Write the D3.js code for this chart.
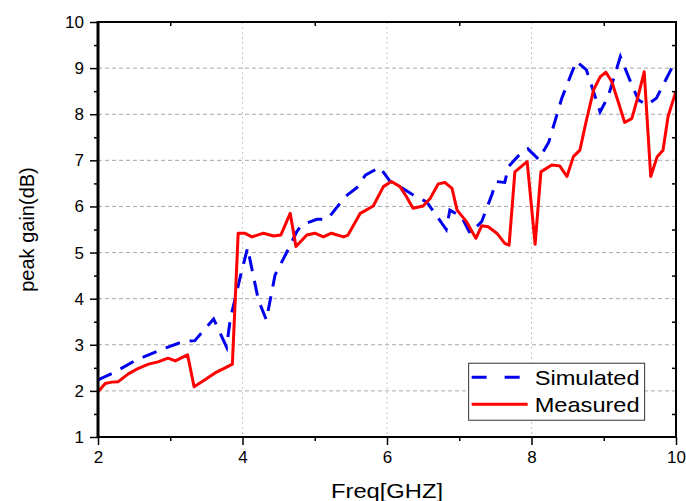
<!DOCTYPE html>
<html>
<head>
<meta charset="utf-8">
<script src="https://cdn.jsdelivr.net/npm/d3@7"></script>
<style>
  body { margin: 0; background: #fff; }
  text { font-family: "Liberation Sans", Arial, sans-serif; fill: #000; }
</style>
</head>
<body>
<script>
// simulated peak gain (dashed blue)
var simFreq = [2.0, 2.2, 2.53, 2.95, 3.18, 3.34, 3.6, 3.78, 3.83, 3.97, 4.07, 4.22, 4.33, 4.45, 4.63, 4.75,
  4.82, 5.03, 5.18, 5.42, 5.6, 5.7, 5.9, 6.04, 6.22, 6.41, 6.55, 6.82, 6.87, 7.03, 7.15, 7.31, 7.45,
  7.51, 7.63, 7.68, 7.82, 7.95, 8.1, 8.24, 8.42, 8.62, 8.76, 8.95, 9.06, 9.23, 9.39, 9.48, 9.6, 9.73,
  9.82, 10.0];
var simGain = [2.24, 2.38, 2.67, 2.94, 3.07, 3.09, 3.56, 2.95, 3.55, 4.48, 5.1, 3.97, 3.54, 4.51, 5.06, 5.45,
  5.6, 5.72, 5.73, 6.21, 6.43, 6.68, 6.85, 6.55, 6.39, 6.2, 6.1, 5.5, 5.92, 5.78, 5.42, 5.67, 6.25,
  6.54, 6.52, 6.86, 7.1, 7.25, 7.02, 7.4, 8.35, 9.15, 8.96, 8.05, 8.38, 9.25, 8.63, 8.31, 8.2, 8.35,
  8.63, 9.18];

// measured peak gain (solid red)
var measFreq = [2.0, 2.1, 2.19, 2.28, 2.42, 2.56, 2.7, 2.83, 2.97, 3.07, 3.16, 3.24, 3.33, 3.48, 3.62, 3.76,
  3.86, 3.94, 4.03, 4.13, 4.29, 4.43, 4.53, 4.66, 4.74, 4.89, 5.0, 5.12, 5.23, 5.4, 5.46, 5.63, 5.81,
  5.95, 6.06, 6.18, 6.27, 6.36, 6.5, 6.6, 6.71, 6.8, 6.9, 6.97, 7.1, 7.23, 7.31, 7.4, 7.52, 7.63,
  7.69, 7.77, 7.94, 8.05, 8.13, 8.28, 8.39, 8.49, 8.58, 8.67, 8.76, 8.86, 8.95, 9.03, 9.11, 9.2,
  9.29, 9.39, 9.48, 9.56, 9.65, 9.74, 9.82, 9.89, 10.0];
var measGain = [1.98, 2.16, 2.19, 2.2, 2.37, 2.49, 2.58, 2.63, 2.71, 2.65, 2.72, 2.78, 2.09, 2.24, 2.39, 2.5,
  2.58, 5.42, 5.42, 5.34, 5.42, 5.36, 5.38, 5.85, 5.13, 5.38, 5.42, 5.34, 5.42, 5.34, 5.38, 5.85, 6.01,
  6.43, 6.54, 6.43, 6.21, 5.96, 6.01, 6.18, 6.49, 6.52, 6.39, 5.92, 5.67, 5.31, 5.58, 5.56, 5.42, 5.2,
  5.16, 6.75, 6.97, 5.18, 6.75, 6.9, 6.88, 6.65, 7.08, 7.22, 7.87, 8.53, 8.81, 8.91, 8.71, 8.27,
  7.82, 7.91, 8.42, 8.92, 6.65, 7.08, 7.22, 7.95, 8.5];

var xMajor = [2, 4, 6, 8, 10];
var xMinor = [3, 5, 7, 9];
var yMajor = [1, 2, 3, 4, 5, 6, 7, 8, 9, 10];
var yMinor = [1.5, 2.5, 3.5, 4.5, 5.5, 6.5, 7.5, 8.5, 9.5];
var seriesNames = ["Simulated", "Measured"];

var margin = {top: 22, right: 10, bottom: 64, left: 98},
    width = 686 - margin.left - margin.right,
    height = 501 - margin.top - margin.bottom;

var x = d3.scaleLinear().domain([2, 10]).range([0, width]);
var y = d3.scaleLinear().domain([1, 10]).range([height, 0]);

var svg = d3.select("body").append("svg")
    .attr("width", 686)
    .attr("height", 501)
  .append("g")
    .attr("transform", "translate(" + margin.left + "," + margin.top + ")");

// grid lines
svg.append("g").selectAll("line")
    .data(yMajor.filter(function(d) { return d > 1 && d < 10; }))
  .enter().append("line")
    .attr("x1", 0).attr("x2", width)
    .attr("y1", function(d) { return y(d); })
    .attr("y2", function(d) { return y(d); })
    .attr("stroke", "#a8a8a8")
    .attr("stroke-width", 1)
    .attr("stroke-dasharray", "4,3");

svg.append("g").selectAll("line")
    .data([4, 6, 8])
  .enter().append("line")
    .attr("y1", 0).attr("y2", height)
    .attr("x1", function(d) { return x(d); })
    .attr("x2", function(d) { return x(d); })
    .attr("stroke", "#c8c8c8")
    .attr("stroke-width", 1)
    .attr("stroke-dasharray", "2,3");

// the two curves
var simLine = d3.line()
    .x(function(d, i) { return x(simFreq[i]); })
    .y(function(d) { return y(d); });
var measLine = d3.line()
    .x(function(d, i) { return x(measFreq[i]); })
    .y(function(d) { return y(d); });

svg.append("path")
    .datum(simGain)
    .attr("d", simLine)
    .attr("fill", "none")
    .attr("stroke", "#0000ee")
    .attr("stroke-width", 3)
    .attr("stroke-dasharray", "15,10");

svg.append("path")
    .datum(measGain)
    .attr("d", measLine)
    .attr("fill", "none")
    .attr("stroke", "#ff0000")
    .attr("stroke-width", 3)
    .attr("stroke-linejoin", "round");

// axes: left and bottom with labels, top and right with inner minor ticks
svg.append("g")
    .attr("transform", "translate(0," + height + ")")
    .call(d3.axisBottom(x).tickValues(xMajor).tickSize(8).tickPadding(6).tickFormat(d3.format("d")));
svg.append("g")
    .attr("transform", "translate(0," + height + ")")
    .call(d3.axisBottom(x).tickValues(xMinor).tickSize(4).tickFormat(""));
svg.append("g")
    .call(d3.axisLeft(y).tickValues(yMajor).tickSize(8).tickPadding(6).tickFormat(d3.format("d")));
svg.append("g")
    .call(d3.axisLeft(y).tickValues(yMinor).tickSize(4).tickFormat(""));
svg.append("g")
    .call(d3.axisBottom(x).tickValues(xMinor).tickSize(4).tickFormat(""));
svg.append("g")
    .attr("transform", "translate(" + width + ",0)")
    .call(d3.axisLeft(y).tickValues(yMinor).tickSize(4).tickFormat(""));

svg.selectAll(".domain").remove();
svg.selectAll(".tick line").attr("stroke", "#000").attr("stroke-width", 1.5);
svg.selectAll(".tick text")
    .style("font-family", "'Liberation Sans', Arial, sans-serif")
    .style("font-size", "17px")
    .attr("fill", "#000");

// frame
svg.append("rect")
    .attr("x", 0).attr("y", 0)
    .attr("width", width).attr("height", height)
    .attr("fill", "none")
    .attr("stroke", "#000")
    .attr("stroke-width", 2);
svg.append("line")
    .attr("x1", 0).attr("x2", 0).attr("y1", -1).attr("y2", height + 1)
    .attr("stroke", "#000").attr("stroke-width", 3);

// axis titles (the original is a bit wider than plain Arial)
svg.append("text")
    .attr("x", x(6))
    .attr("y", height + 61)
    .style("text-anchor", "middle")
    .style("font-size", "20px")
    .attr("textLength", 112)
    .attr("lengthAdjust", "spacingAndGlyphs")
    .text("Freq[GHZ]");

svg.append("text")
    .attr("transform", "rotate(-90)")
    .attr("x", -(y(5.5)))
    .attr("y", -64)
    .style("text-anchor", "middle")
    .style("font-size", "20px")
    .text("peak gain(dB)");

// legend
var legend = svg.append("g")
    .attr("transform", "translate(" + x(7.13) + "," + y(2.6) + ")");
legend.append("rect")
    .attr("width", 176).attr("height", 57)
    .attr("fill", "#fff")
    .attr("stroke", "#333")
    .attr("stroke-width", 1);
legend.append("line")
    .attr("x1", 3).attr("x2", 53).attr("y1", 14).attr("y2", 14)
    .attr("stroke", "#0000ee").attr("stroke-width", 3)
    .attr("stroke-dasharray", "15,18");
legend.append("line")
    .attr("x1", 3).attr("x2", 59).attr("y1", 41).attr("y2", 41)
    .attr("stroke", "#ff0000").attr("stroke-width", 3);
var legendWidths = [105, 105];
for (var i = 0; i < seriesNames.length; i++) {
  legend.append("text")
      .attr("x", 66)
      .attr("y", 22 + 27 * i)
      .style("font-size", "21px")
      .attr("textLength", legendWidths[i])
      .attr("lengthAdjust", "spacingAndGlyphs")
      .text(seriesNames[i]);
}
</script>
</body>
</html>
